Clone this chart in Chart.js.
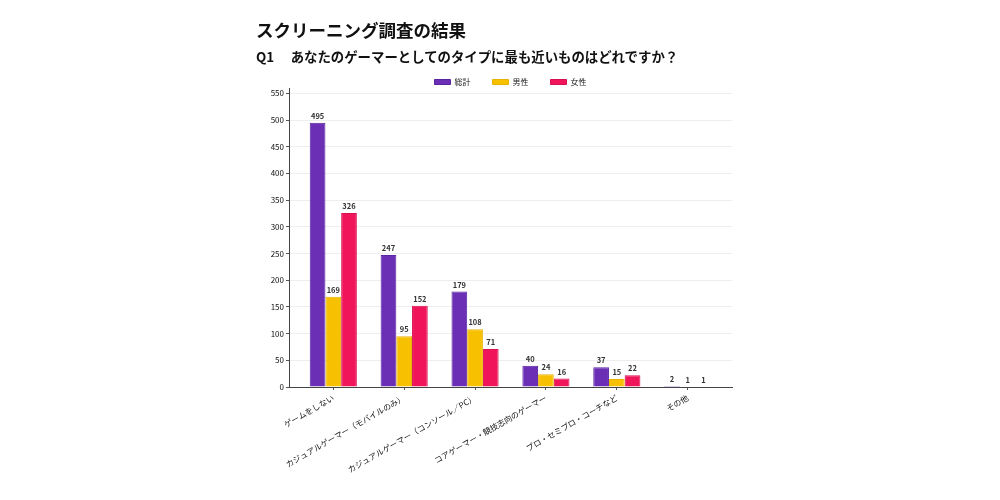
<!DOCTYPE html>
<html>

<head>
	<meta charset="utf-8">
	<title>スクリーニング調査の結果</title>
	<script src="https://cdn.jsdelivr.net/npm/chart.js"></script>
	<style>
		body { margin: 0; background: #fff; font-family: "Noto Sans CJK JP", sans-serif; }
		#wrap { position: relative; width: 1000px; height: 500px; }
		#titulo { position: absolute; left: 256px; top: 17px; font-size: 17.5px; font-weight: bold; color: #111; }
		#sub { position: absolute; left: 256px; top: 46px; font-size: 13.4px; font-weight: bold; color: #111; white-space: pre; }
		canvas { position: absolute; left: 0; top: 0; }
	</style>
</head>

<body>
	<div id="wrap">
		<canvas id="canvas" width="1000" height="500"></canvas>
		<div id="titulo">スクリーニング調査の結果</div>
		<div id="sub">Q1　 あなたのゲーマーとしてのタイプに最も近いものはどれですか？</div>
	</div>

	<script>
		// dados
		const categorias = ['ゲームをしない', 'カジュアルゲーマー（モバイルのみ）', 'カジュアルゲーマー（コンソール／PC）',
			'コアゲーマー・競技志向のゲーマー', 'プロ・セミプロ・コーチなど', 'その他']
		const total = [495, 247, 179, 40, 37, 2]
		const homens = [169, 95, 108, 24, 15, 1]
		const mulheres = [326, 152, 71, 16, 22, 1]
		const yTicks = [0, 50, 100, 150, 200, 250, 300, 350, 400, 450, 500, 550]

		const fonte = '"Noto Sans CJK JP", sans-serif'
		const pontos = arr => arr.map((v, i) => ({ x: i, y: v }))

		// rótulos de valor acima das barras
		const rotulos = {
			id: 'rotulos',
			afterDatasetsDraw(chart) {
				const ctx = chart.ctx
				ctx.save()
				ctx.font = 'bold 7.5px ' + fonte
				ctx.fillStyle = '#333'
				ctx.textAlign = 'center'
				ctx.textBaseline = 'bottom'
				chart.data.datasets.forEach((ds, d) => {
					chart.getDatasetMeta(d).data.forEach((bar, i) => {
						ctx.fillText(ds.data[i].y, bar.x, bar.y - 3)
					})
				})
				ctx.restore()
			}
		}

		// legenda centralizada sobre a área do gráfico, um pouco mais perto dela
		const legendaNoCentro = {
			id: 'legendaNoCentro',
			afterLayout(chart) {
				const lg = chart.legend
				lg.left = chart.chartArea.left
				lg.right = chart.chartArea.right
				lg.top += 8
				lg.bottom += 8
			}
		}

		const ctx = document.querySelector('#canvas').getContext('2d')
		const chart = new Chart(ctx, {
			type: 'bar',
			data: {
				datasets: [
					{ label: '総計', data: pontos(total), backgroundColor: '#6a2fb5', borderColor: '#5a24a0', borderWidth: 1 },
					{ label: '男性', data: pontos(homens), backgroundColor: '#f7c000', borderColor: '#e8b200', borderWidth: 1 },
					{ label: '女性', data: pontos(mulheres), backgroundColor: '#f0155a', borderColor: '#d81050', borderWidth: 1 }
				]
			},
			options: {
				responsive: false,
				animation: false,
				categoryPercentage: 0.665,
				barPercentage: 1,
				layout: { padding: { left: 250, right: 268, top: 48, bottom: 0 } },
				plugins: {
					tooltip: { enabled: false },
					legend: {
						labels: {
							boxWidth: 16, boxHeight: 5, padding: 22, color: '#222',
							font: { family: fonte, size: 8 }
						}
					}
				},
				scales: {
					x: {
						type: 'linear',
						offset: false,
						min: -0.625,
						max: 5.625,
						afterBuildTicks: axis => { axis.ticks = categorias.map((c, i) => ({ value: i })) },
						afterFit: axis => { axis.height = 113 },
						ticks: {
							autoSkip: false, minRotation: 30, maxRotation: 30, color: '#111',
							font: { family: fonte, size: 8 },
							callback: v => categorias[v]
						},
						grid: { offset: false, drawOnChartArea: false, tickLength: 3, tickColor: '#555' },
						border: { color: '#444' }
					},
					y: {
						min: 0,
						max: 560,
						afterBuildTicks: axis => { axis.ticks = yTicks.map(v => ({ value: v })) },
						afterFit: axis => { axis.width = 39 },
						ticks: { color: '#111', font: { family: fonte, size: 8 }, padding: 2 },
						grid: { color: '#eeeeee', tickLength: 3, tickColor: '#555' },
						border: { color: '#444' }
					}
				}
			},
			plugins: [rotulos, legendaNoCentro]
		});
	</script>
</body>

</html>
